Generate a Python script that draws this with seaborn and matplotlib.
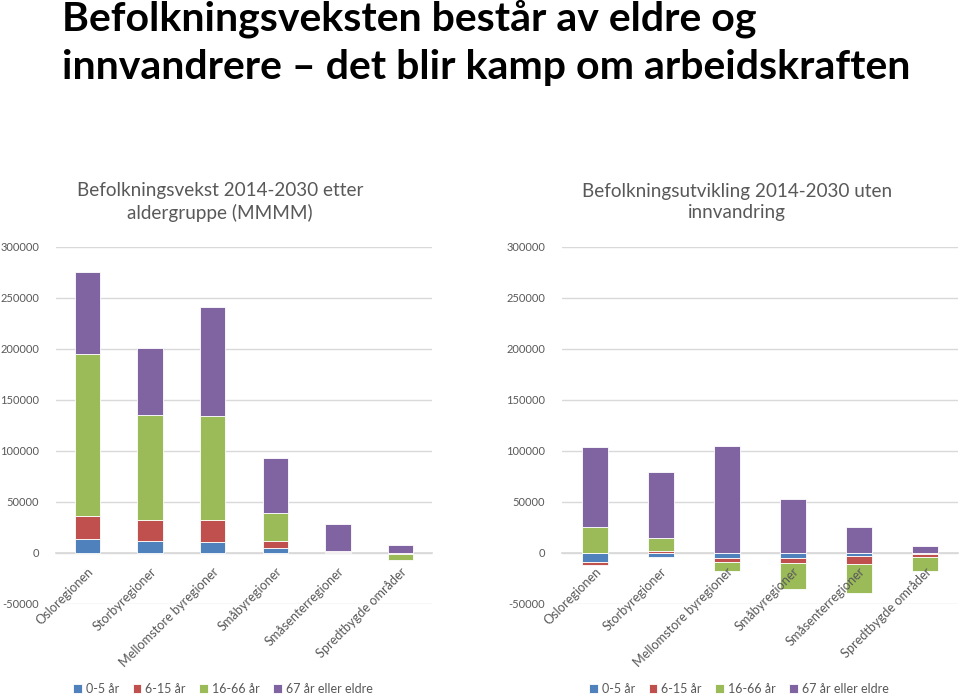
import matplotlib
matplotlib.use("Agg")
import matplotlib.pyplot as plt
import seaborn as sns
import pandas as pd
import numpy as np

regions = ["Osloregionen", "Storbyregioner", "Mellomstore byregioner",
           "Småbyregioner", "Småsenterregioner", "Spredtbygde områder"]
series = ["0-5 år", "6-15 år", "16-66 år", "67 år eller eldre"]
colors = ["#4F81BD", "#C0504D", "#9BBB59", "#8064A2"]

# Left chart: Befolkningsvekst 2014-2030 etter aldergruppe (MMMM)
left_0_5 = [13400, 11500, 10800, 4600, 1000, -500]
left_6_15 = [22500, 20500, 21200, 7200, 300, -300]
left_16_66 = [158700, 103000, 102400, 27400, 0, -6200]
left_67 = [80700, 65400, 106000, 53300, 26500, 7800]

# Right chart: Befolkningsutvikling 2014-2030 uten innvandring
right_0_5 = [-9500, -4300, -5200, -5500, -3000, -1000]
right_6_15 = [-2400, 1200, -4300, -4300, -7800, -3000]
right_16_66 = [25500, 13500, -8000, -26000, -28400, -14000]
right_67 = [78500, 64300, 104200, 52300, 25200, 6900]

yticks = [-50000, 0, 50000, 100000, 150000, 200000, 250000, 300000]

title_line1 = "Befolkningsveksten består av eldre og"
title_line2 = "innvandrere – det blir kamp om arbeidskraften"
title_left = "Befolkningsvekst 2014-2030 etter\naldergruppe (MMMM)"
title_right = "Befolkningsutvikling 2014-2030 uten\ninnvandring"

sns.set_theme(style="white")
plt.rcParams["font.family"] = ["Lato", "DejaVu Sans"]

TXT = "#595959"
GRID = "#D9D9D9"

fig = plt.figure(figsize=(9.6, 6.96), dpi=100)
axL = fig.add_axes([56/960, 1-603.7/696, (432-56)/960, (603.7-246.7)/696])
axR = fig.add_axes([561.7/960, 1-603.7/696, (958-561.7)/960, (603.7-246.7)/696])


def stacked(ax, data_lists):
    df = pd.DataFrame({s: v for s, v in zip(series, data_lists)}, index=regions)
    pos = np.zeros(len(regions))
    neg = np.zeros(len(regions))
    for s, c in zip(series, colors):
        vals = df[s].to_numpy(dtype=float)
        bottom = np.where(vals >= 0, pos, neg)
        d = pd.DataFrame({"region": regions, "value": vals})
        sns.barplot(data=d, x="region", y="value", ax=ax, color=c, width=0.4,
                    bottom=bottom, label=s, edgecolor="white", linewidth=0.6,
                    saturation=1)
        pos = np.where(vals >= 0, pos + vals, pos)
        neg = np.where(vals < 0, neg + vals, neg)
    ax.set_xlim(-0.5, len(regions) - 0.5)
    ax.set_ylim(-50000, 300000)
    ax.set_yticks(yticks)
    ax.set_yticklabels([str(t) for t in yticks], fontsize=8, color=TXT)
    ax.yaxis.grid(True, color=GRID, linewidth=1)
    ax.set_axisbelow(True)
    ax.xaxis.set_zorder(5)
    for sp in ["top", "right", "left"]:
        ax.spines[sp].set_visible(False)
    ax.spines["bottom"].set_position(("data", 0))
    ax.spines["bottom"].set_color(GRID)
    ax.spines["bottom"].set_zorder(0.4)
    ax.tick_params(axis="y", length=0, pad=12)
    ax.tick_params(axis="x", length=0, pad=9)
    ax.set_xticks(range(len(regions)))
    ax.set_xticklabels(regions, rotation=45, ha="right", va="top",
                       rotation_mode="anchor", fontsize=9.2, color=TXT)
    ax.set_xlabel("")
    ax.set_ylabel("")
    if ax.get_legend():
        ax.get_legend().remove()


stacked(axL, [left_0_5, left_6_15, left_16_66, left_67])
stacked(axR, [right_0_5, right_6_15, right_16_66, right_67])

for ax, cx in [(axL, 223/960), (axR, 739/960)]:
    h, l = ax.get_legend_handles_labels()
    fig.legend(h, l, loc="center", bbox_to_anchor=(cx, 1 - 689/696), ncol=4,
               frameon=False, fontsize=9, handlelength=0.7, handleheight=0.7,
               handletextpad=0.3, columnspacing=1.1, labelcolor=TXT,
               borderaxespad=0)

fig.text(62/960, 1 - 31/696, title_line1, ha="left", va="baseline",
         fontsize=29.5, fontweight="bold", color="black")
fig.text(62/960, 1 - 79/696, title_line2, ha="left", va="baseline",
         fontsize=29.5, fontweight="bold", color="black")
fig.text(220/960, 1 - 202/696, title_left, ha="center", va="center",
         fontsize=13.6, color=TXT, linespacing=1.3)
fig.text(737/960, 1 - 202/696, title_right, ha="center", va="center",
         fontsize=13.6, color=TXT, linespacing=1.3)

fig.savefig("out.png", dpi=100)
